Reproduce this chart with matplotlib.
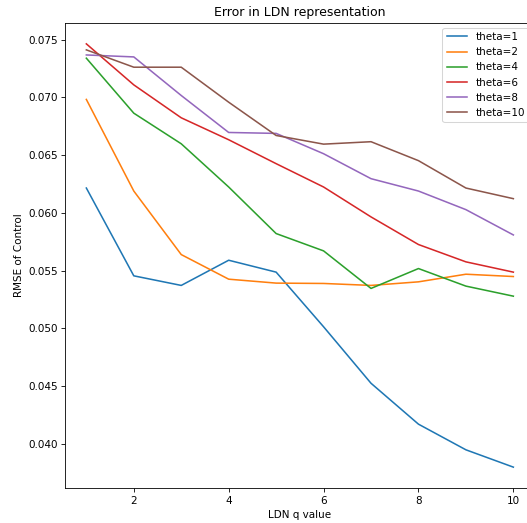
import numpy as np
import matplotlib
matplotlib.use('Agg')
import matplotlib.pyplot as plt

q = np.arange(1, 11)

thetas = [1, 2, 4, 6, 8, 10]

rmse_theta1 = [0.06215, 0.05455, 0.05372, 0.05590, 0.05487, 0.05014, 0.04525, 0.04171, 0.03949, 0.03799]
rmse_theta2 = [0.06982, 0.06189, 0.05639, 0.05426, 0.05392, 0.05389, 0.05372, 0.05403, 0.05469, 0.05449]
rmse_theta4 = [0.07339, 0.06863, 0.06598, 0.06224, 0.05821, 0.05671, 0.05346, 0.05518, 0.05366, 0.05279]
rmse_theta6 = [0.07463, 0.07108, 0.06823, 0.06633, 0.06426, 0.06224, 0.05965, 0.05726, 0.05576, 0.05487]
rmse_theta8 = [0.07367, 0.07350, 0.07016, 0.06696, 0.06688, 0.06512, 0.06296, 0.06189, 0.06028, 0.05809]
rmse_theta10 = [0.07411, 0.07261, 0.07261, 0.06958, 0.06670, 0.06595, 0.06616, 0.06452, 0.06215, 0.06123]

all_rmse = [rmse_theta1, rmse_theta2, rmse_theta4, rmse_theta6, rmse_theta8, rmse_theta10]

dpi = 75
fig = plt.figure(figsize=(527 / dpi, 523 / dpi), dpi=dpi)
# axes runs a little past the right edge, like the cropped original
ax = fig.add_axes([65 / 527, 34.7 / 523, 469.7 / 527, 465.6 / 523])

for t, r in zip(thetas, all_rmse):
    ax.plot(q, r, label='theta=' + str(t))

ax.set_title('Error in LDN representation')
ax.set_xlabel('LDN q value')
ax.set_ylabel('RMSE of Control')
ax.legend(loc='upper right')

fig.savefig('out.png', dpi=dpi)
